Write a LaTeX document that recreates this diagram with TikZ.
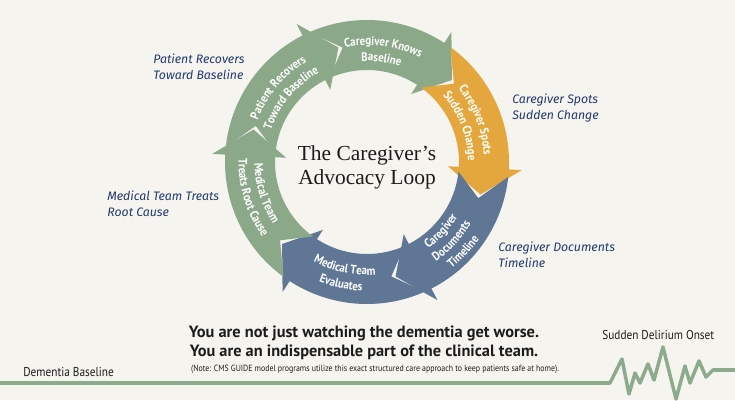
\documentclass[tikz,border=0pt]{standalone}
\usepackage{fontspec}
\setmainfont{Liberation Serif}
\newfontfamily\handfont{Fira Sans}
\newfontfamily\narrowfont[FakeStretch=0.88]{PT Sans}
\newfontfamily\boldsans{PT Sans}
\usetikzlibrary{decorations.text}

\definecolor{paper}{RGB}{245,244,238}
\definecolor{sage}{RGB}{139,169,137}
\definecolor{amber}{RGB}{228,167,61}
\definecolor{slate}{RGB}{95,118,149}
\definecolor{ink}{RGB}{33,58,110}
\definecolor{darktext}{RGB}{28,28,28}
\definecolor{trace}{RGB}{140,170,140}

% white text bent along one ring segment: radius, start angle, end angle, text
\newcommand{\ringtext}[4]{%
  \path[decorate, decoration={text along path, text align=center, text color=white,
    text={|\narrowfont\bfseries\fontsize{7}{8}\selectfont|#4}}]
    (#2:#1) arc[start angle=#2, end angle=#3, radius=#1];}

\tikzset{
  side note/.style={font=\handfont\itshape\fontsize{7}{9}\selectfont, text=ink,
    align=left, anchor=west, inner sep=0pt},
  loop title/.style={font=\fontsize{12.2}{13.8}\selectfont, text=darktext, align=center},
  message/.style={font=\boldsans\bfseries\fontsize{9.3}{10.8}\selectfont, text=darktext, align=center},
  axis text/.style={font=\narrowfont\fontsize{7.3}{8}\selectfont, text=darktext, inner sep=0pt},
  trace line/.style={draw=trace, line width=2pt, line join=round}
}

\begin{document}
\begin{tikzpicture}[x=0.02cm, y=0.02cm]
    % background
    \fill[paper] (0,0) rectangle (735,400);
    \useasboundingbox (0,0) rectangle (735,400);

    \begin{scope}[shift={(367,238)}]
    % six arrows of the loop
    \foreach \s/\col in {114/sage, 54/amber, -6/slate, -66/slate, -126/sage, 174/sage} {
        \pgfmathsetmacro\headA{\s-57}
        \pgfmathsetmacro\tipA{\s-70}
        \pgfmathsetmacro\notchA{\s-12}
        \fill[\col] (\s:142) arc[start angle=\s, end angle=\headA, radius=142]
            -- (\headA:155) -- (\tipA:118) -- (\headA:81) -- (\headA:92)
            arc[start angle=\headA, end angle=\s, radius=92] -- (\notchA:117) -- cycle;
    }

    % labels on the arrows
    \ringtext{117}{112}{52}{Caregiver Knows}
    \ringtext{101}{112}{52}{Baseline}
    \ringtext{117}{51}{-9}{Caregiver Spots}
    \ringtext{101}{51}{-9}{Sudden Change}
    \ringtext{106}{-73}{-13}{Caregiver}
    \ringtext{121}{-73}{-13}{Documents}
    \ringtext{136}{-73}{-13}{Timeline}
    \ringtext{113}{-132}{-72}{Medical Team}
    \ringtext{129}{-132}{-72}{Evaluates}
    \ringtext{112.5}{-195}{-131}{Medical Team}
    \ringtext{128.5}{-195}{-131}{Treats Root Cause}
    \ringtext{117}{170}{110}{Patient Recovers}
    \ringtext{101}{170}{110}{Toward Baseline}
    \end{scope}

    % title in the middle
    \node[loop title] (title) at (367,233) {The Caregiver’s\\Advocacy Loop};

    % notes beside the loop
    \node[side note] (recovers) at (153,333.5) {Patient Recovers\\Toward Baseline};
    \node[side note] (spots) at (512,292) {Caregiver Spots\\Sudden Change};
    \node[side note] (documents) at (498,145) {Caregiver Documents\\Timeline};
    \node[side note] (treats) at (107,196) {Medical Team Treats\\Root Cause};

    % message at the bottom
    \node[message] (msg) at (364,57.5) {You are not just watching the dementia get worse.\\You are an indispensable part of the clinical team.};
    \node[axis text, font=\narrowfont\fontsize{5.1}{6}\selectfont] (cms) at (375,31)
        {(Note: CMS GUIDE model programs utilize this exact structured care approach to keep patients safe at home).};

    % baseline and delirium spike
    \node[axis text, anchor=west] (baseline) at (23,28) {Dementia Baseline};
    \node[axis text, anchor=west] (onset) at (602,65) {Sudden Delirium Onset};
    \draw[trace line] (0,17) -- (610,17) -- (622,41) -- (629,6) -- (635,27) -- (640,17)
        -- (648,36) -- (654,20) -- (663,53) -- (676,1) -- (685,34) -- (690,17)
        -- (699,39) -- (706,23) -- (713,30) -- (735,30);
\end{tikzpicture}
\end{document}
